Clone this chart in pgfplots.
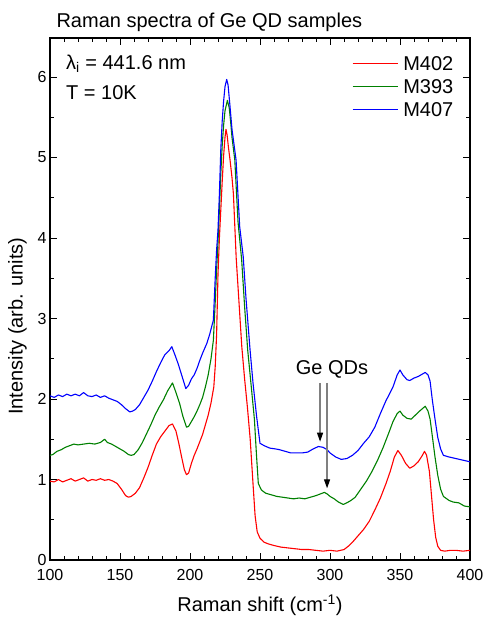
\documentclass[border=0pt]{standalone}
\usepackage{fontspec}
\setmainfont{Liberation Sans}
\usepackage{pgfplots}
\pgfplotsset{compat=1.18}
\usetikzlibrary{arrows.meta}

\definecolor{mred}{RGB}{255,0,0}
\definecolor{mgreen}{RGB}{0,128,0}
\definecolor{mblue}{RGB}{0,0,255}

\newcommand{\bigfont}{\fontsize{20}{24}\selectfont}
\newcommand{\tickfont}{\fontsize{16}{18}\selectfont}

\pgfplotsset{
  longline legend/.style={
    legend image code/.code={\draw[##1, line width=1.1pt] (0pt,0pt) -- (45pt,0pt);}},
}

\begin{document}
\begin{tikzpicture}
\begin{axis}[
  at={(0pt,0pt)}, anchor=south west,
  scale only axis, width=420pt, height=522pt,
  xmin=100, xmax=400, ymin=0, ymax=6.485,
  xtick={100,150,...,400}, minor x tick num=4,
  ytick={0,1,...,6}, minor y tick num=1,
  tick align=inside,
  major tick length=7pt, minor tick length=4pt,
  every tick/.style={black, line width=1pt},
  axis line style={line width=1.2pt},
  ticklabel style={font=\tickfont},
  xticklabel style={yshift=-6pt},
  /pgf/number format/assume math mode=true,
  xlabel={Raman shift (cm\textsuperscript{-1})},
  ylabel={Intensity (arb. units)},
  label style={font=\bigfont},
  xlabel style={at={(axis description cs:0.5,-0.0996)}, anchor=base},
  ylabel style={at={(axis description cs:-0.065,0.448)}, anchor=base},
  legend style={draw=none, fill=none, inner sep=0pt,
    at={(axis description cs:0.719,0.965)}, anchor=north west,
    font=\bigfont, row sep=8.5pt, column sep=5pt,
    nodes={inner sep=0pt, text height=14.5pt, text depth=0pt}},
  longline legend,
  legend cell align=left,
]

% sample M402
\addplot[mred, line width=1.1pt, line join=round] coordinates {
(100,0.98) (103,0.97) (106,1.00) (109,0.97) (112,0.99) (115,1.01) (118,0.98)
(121,1.00) (124,1.02) (127,0.98) (130,1.00) (133,0.99) (136,1.01) (139,0.99)
(142,1.00) (145,0.98) (148,0.95) (151,0.88) (154,0.80) (156,0.78) (158,0.79)
(161,0.83) (164,0.90) (167,1.02) (170,1.15) (173,1.30) (176,1.44) (179,1.53)
(182,1.60) (185,1.67) (187.5,1.69) (190,1.60) (192,1.45) (194,1.28) (196,1.12)
(197.5,1.06) (199,1.08) (201,1.20) (203,1.30) (205,1.38) (207,1.47) (209,1.56)
(211,1.68) (213,1.80) (215,1.95) (217,2.15) (218,2.40) (219,2.80) (220,3.55)
(221,4.00) (222,4.35) (223,4.70) (224,5.02) (225,5.25) (225.7,5.35) (226.5,5.28)
(227.5,5.12) (228.6,4.97) (230,4.75) (231,4.55) (232,4.15) (233,3.75) (235,3.20)
(237,2.65) (239,2.25) (241,1.90) (243,1.50) (245,0.95) (246.5,0.55) (248,0.35)
(250,0.27) (253,0.22) (256,0.20) (260,0.18) (265,0.16) (270,0.15) (275,0.14)
(280,0.13) (285,0.13) (290,0.12) (295,0.11) (300,0.12) (305,0.11) (310,0.13)
(313,0.17) (316,0.22) (320,0.30) (324,0.38) (328,0.48) (332,0.62) (336,0.77)
(340,0.95) (343,1.10) (346,1.28) (348.5,1.36) (351,1.30) (354,1.20) (357,1.14)
(360,1.17) (363,1.22) (366,1.30) (367.5,1.35) (369,1.30) (371,1.10) (372.5,0.80)
(374,0.50) (375.5,0.28) (377,0.17) (379,0.12) (382,0.11) (386,0.12) (390,0.12)
(395,0.11) (400,0.12)
};
\addlegendentry{M402}

% sample M393
\addplot[mgreen, line width=1.1pt, line join=round] coordinates {
(100,1.30) (102,1.31) (105,1.35) (108,1.37) (111,1.40) (114,1.42) (117,1.44)
(120,1.43) (124,1.44) (128,1.45) (132,1.44) (136,1.46) (139,1.50) (141,1.46)
(144,1.44) (147,1.41) (150,1.38) (153,1.35) (156,1.31) (158,1.30) (160,1.31)
(163,1.37) (166,1.46) (169,1.57) (172,1.68) (175,1.80) (178,1.90) (181,1.99)
(184,2.10) (187.5,2.20) (190,2.08) (192.5,1.95) (195,1.78) (197.5,1.65)
(199,1.66) (201,1.72) (203,1.78) (205,1.85) (207,1.93) (209,2.02) (211,2.15)
(213,2.30) (215,2.50) (216.7,2.73) (218,3.20) (219,3.60) (220,3.95) (221,4.35)
(222,4.80) (223,5.15) (224,5.40) (225,5.58) (226.7,5.71) (228,5.62) (229,5.45)
(230,5.25) (232,4.97) (234.3,4.20) (236.9,3.73) (239,3.15) (241.2,2.61)
(243.5,2.20) (246,1.75) (247.5,1.30) (248.8,0.95) (251,0.87) (254,0.83)
(258,0.81) (262,0.79) (266,0.78) (270,0.77) (274,0.76) (278,0.77) (282,0.76)
(286,0.78) (290,0.80) (293,0.82) (296,0.84) (298,0.82) (300,0.79) (303,0.76)
(306,0.72) (309.5,0.69) (312,0.71) (315,0.74) (318,0.78) (322,0.88) (326,0.98)
(330,1.10) (334,1.24) (338,1.40) (342,1.58) (345,1.72) (348,1.82) (350,1.85)
(352,1.80) (355,1.76) (358,1.75) (361,1.80) (364,1.85) (368,1.91) (370,1.85)
(371.5,1.75) (373,1.55) (375,1.28) (377,1.05) (379,0.88) (381,0.79) (385,0.74)
(388,0.72) (392,0.71) (396,0.67) (400,0.66)
};
\addlegendentry{M393}

% sample M407
\addplot[mblue, line width=1.1pt, line join=round] coordinates {
(100,2.04) (103,2.02) (106,2.05) (109,2.03) (112,2.06) (115,2.04) (118,2.06)
(121,2.04) (124,2.08) (127,2.04) (130,2.03) (133,2.05) (136,2.02) (139,2.04)
(142,2.01) (145,1.99) (148,1.97) (151,1.93) (154,1.88) (157,1.84) (159,1.85)
(161,1.87) (164,1.93) (167,2.02) (170,2.11) (173,2.22) (176,2.34) (179,2.45)
(182,2.55) (185,2.60) (187,2.65) (189,2.56) (191.5,2.44) (194,2.30) (197,2.13)
(199,2.17) (201,2.25) (203,2.30) (205,2.38) (207,2.48) (209,2.57) (212,2.69)
(214,2.80) (216.7,2.98) (218,3.50) (219,3.85) (220,4.10) (221,4.55) (222,5.10)
(223,5.45) (224,5.70) (225,5.88) (226.2,5.97) (227.2,5.90) (228.5,5.65)
(230,5.35) (232.9,4.97) (235.5,4.14) (238,3.77) (240,3.25) (242.9,2.61)
(245,2.20) (247.6,1.78) (250,1.45) (253,1.42) (257,1.39) (261,1.38) (264,1.37)
(268,1.35) (272,1.33) (276,1.33) (280,1.33) (284,1.34) (288,1.38) (291.7,1.41)
(295,1.40) (298,1.37) (300,1.33) (304,1.28) (308,1.25) (312,1.26) (316,1.30)
(320,1.36) (324,1.45) (328,1.53) (332,1.65) (336,1.82) (340,1.98) (343,2.08)
(345,2.15) (348,2.30) (350,2.36) (352,2.30) (355,2.24) (357,2.23) (360,2.26)
(363,2.28) (366,2.31) (368,2.33) (370,2.30) (371.5,2.22) (373,2.00) (375,1.75)
(377,1.52) (379,1.38) (381,1.30) (385,1.28) (390,1.26) (395,1.24) (400,1.22)
};
\addlegendentry{M407}

% QD phonon markers
\draw[gray, line width=1.2pt, -{Triangle[black, length=9pt, width=6pt]}]
  (axis cs:292.9,2.20) -- (axis cs:292.9,1.47);
\draw[gray, line width=1.2pt, -{Triangle[black, length=9pt, width=6pt]}]
  (axis cs:297.9,2.20) -- (axis cs:297.9,0.89);
\node[font=\bigfont, anchor=base] at (axis cs:301.4,2.30) {Ge QDs};

\node[font=\bigfont, anchor=base west] at (axis description cs:0.0302,0.9406)
  {λ\textsubscript{i} = 441.6 nm};
\node[font=\bigfont, anchor=base west] at (axis description cs:0.0302,0.8831)
  {T = 10K};
\end{axis}

\node[font=\bigfont, anchor=base west] at (3pt,532pt) {Raman spectra of Ge QD samples};

\pgfresetboundingbox
\useasboundingbox (-50pt,-58pt) rectangle (433pt,560pt);
\end{tikzpicture}
\end{document}
